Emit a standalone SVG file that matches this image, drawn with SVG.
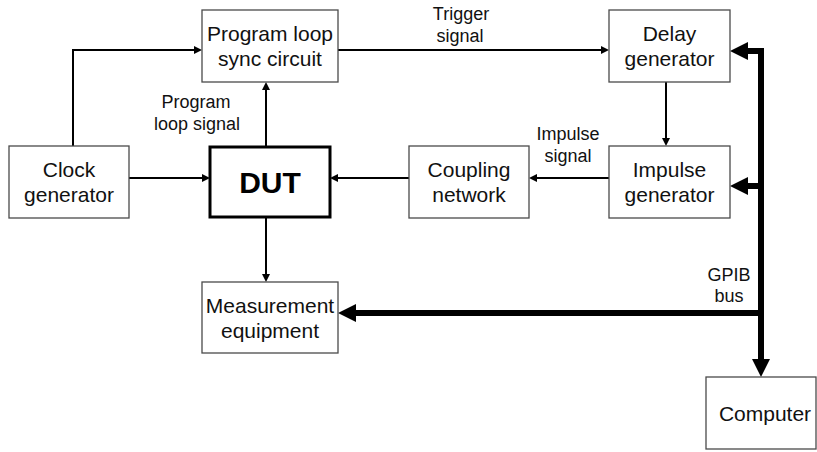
<svg xmlns="http://www.w3.org/2000/svg" width="817" height="452" viewBox="0 0 817 452">
  <style>
    .box { fill: #ffffff; stroke: #4a4a4a; stroke-width: 1.3; }
    .dut { fill: #ffffff; stroke: #000000; stroke-width: 3; }
    .t { font-family: "Liberation Sans", Arial, sans-serif; font-size: 21px; fill: #111111; text-anchor: middle; }
    .lbl { font-family: "Liberation Sans", Arial, sans-serif; font-size: 18px; fill: #111111; text-anchor: middle; }
    .big { font-family: "Liberation Sans", Arial, sans-serif; font-size: 30px; font-weight: bold; fill: #000000; text-anchor: middle; }
    .wire { fill: none; stroke: #000000; stroke-width: 2; marker-end: url(#arrowSmall); }
    .bus { fill: none; stroke: #000000; stroke-width: 6; }
    .busArrow { marker-end: url(#arrowBig); }
  </style>
  <defs>
    <marker id="arrowSmall" markerUnits="userSpaceOnUse" markerWidth="8" markerHeight="8" refX="0" refY="4" orient="auto">
      <path d="M0,0 L8,4 L0,8 z" fill="#000000"/>
    </marker>
    <marker id="arrowBig" markerUnits="userSpaceOnUse" markerWidth="18" markerHeight="18" refX="0" refY="9" orient="auto">
      <path d="M0,0 L18,9 L0,18 z" fill="#000000"/>
    </marker>
  </defs>

  <rect width="817" height="452" fill="#ffffff"/>

  <!-- signal connectors and the GPIB bus -->
  <g id="connectors">
    <path class="wire" d="M73,146 V50 H194"/>
    <path class="wire" d="M338,50 H601"/>
    <path class="wire" d="M266,146 V90"/>
    <path class="wire" d="M129,178 H202"/>
    <path class="wire" d="M409,178 H338"/>
    <path class="wire" d="M609,178 H537"/>
    <path class="wire" d="M666,82 V138"/>
    <path class="wire" d="M266,218 V274"/>

    <path class="bus busArrow" d="M761,48 V359"/>
    <path class="bus busArrow" d="M764,51 H748"/>
    <path class="bus busArrow" d="M761,186 H748"/>
    <path class="bus busArrow" d="M761,313 H356"/>
  </g>

  <!-- connector labels -->
  <g id="labels">
    <text class="lbl" x="196" y="108">Program</text>
    <text class="lbl" x="197" y="130">loop signal</text>
    <text class="lbl" x="461" y="20">Trigger</text>
    <text class="lbl" x="460" y="42">signal</text>
    <text class="lbl" x="568" y="140">Impulse</text>
    <text class="lbl" x="568" y="162">signal</text>
    <text class="lbl" x="729" y="281">GPIB</text>
    <text class="lbl" x="729" y="302">bus</text>
  </g>

  <g id="sync-circuit">
    <rect class="box" x="202" y="10" width="136" height="72"/>
    <text class="t" x="270" y="41">Program loop</text>
    <text class="t" x="270" y="66">sync circuit</text>
  </g>

  <g id="delay-generator">
    <rect class="box" x="609" y="10" width="121" height="72"/>
    <text class="t" x="669.5" y="41">Delay</text>
    <text class="t" x="669.5" y="66">generator</text>
  </g>

  <g id="clock-generator">
    <rect class="box" x="9" y="146" width="120" height="72"/>
    <text class="t" x="69" y="177">Clock</text>
    <text class="t" x="69" y="202">generator</text>
  </g>

  <g id="dut">
    <rect class="dut" x="210" y="147" width="120" height="70"/>
    <text class="big" x="270" y="193">DUT</text>
  </g>

  <g id="coupling-network">
    <rect class="box" x="409" y="146" width="120" height="72"/>
    <text class="t" x="469" y="177">Coupling</text>
    <text class="t" x="469" y="202">network</text>
  </g>

  <g id="impulse-generator">
    <rect class="box" x="609" y="146" width="121" height="72"/>
    <text class="t" x="669.5" y="177">Impulse</text>
    <text class="t" x="669.5" y="202">generator</text>
  </g>

  <g id="measurement-equipment">
    <rect class="box" x="202" y="282" width="136" height="71"/>
    <text class="t" x="270" y="312.5">Measurement</text>
    <text class="t" x="270" y="337.5">equipment</text>
  </g>

  <g id="computer">
    <rect class="box" x="706" y="377" width="110" height="72"/>
    <text class="t" x="765" y="421">Computer</text>
  </g>
</svg>
